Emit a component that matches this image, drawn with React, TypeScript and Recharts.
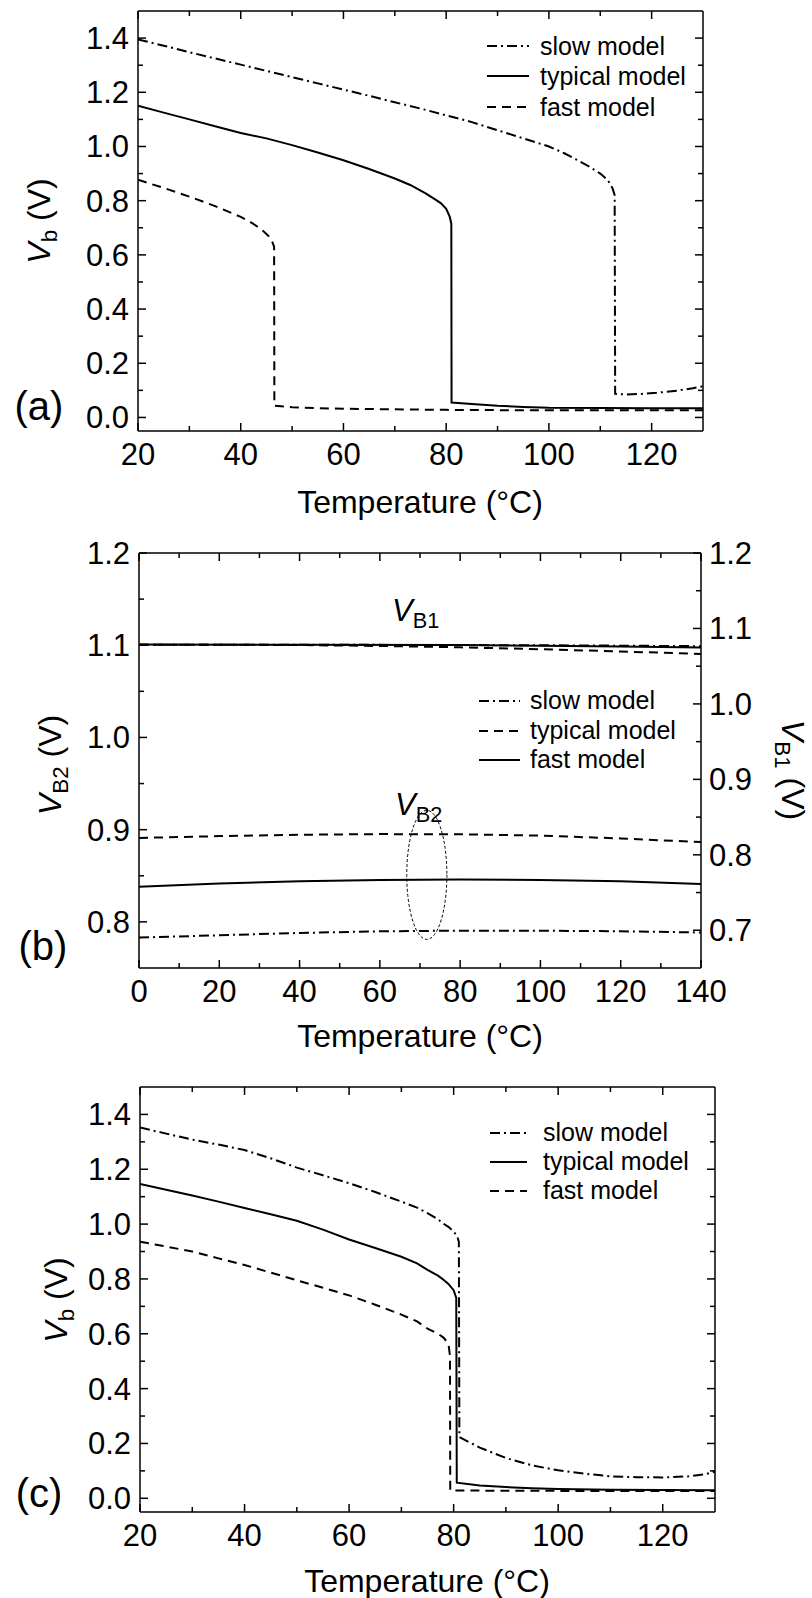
import React from 'react';
import { LineChart, Line, XAxis, YAxis, Legend, ReferenceDot } from 'recharts';

const FONT = '"Liberation Sans", Arial, Helvetica, sans-serif';
const DASH = '9 6';
const DASHDOT = '10 4 2 4';

// (a) Vb vs temperature
const aSlow: [number, number][] = [
  [20, 1.395], [25, 1.372], [30, 1.348], [35, 1.325], [40, 1.302], [45, 1.279], [50, 1.256],
  [55, 1.233], [60, 1.21], [65, 1.187], [70, 1.163], [75, 1.14], [80, 1.115], [85, 1.09],
  [90, 1.06], [95, 1.03], [100, 1.0], [103, 0.975], [106, 0.945], [108, 0.924], [110, 0.9],
  [111.5, 0.875], [112.4, 0.845], [112.8, 0.82], [112.9, 0.087], [115, 0.085], [118, 0.087],
  [121, 0.091], [125, 0.099], [128, 0.108], [130, 0.115],
];
const aTypical: [number, number][] = [
  [20, 1.15], [25, 1.125], [30, 1.1], [35, 1.075], [40, 1.05], [45, 1.03], [50, 1.005],
  [55, 0.978], [60, 0.949], [65, 0.917], [70, 0.882], [73, 0.858], [76, 0.827], [78, 0.803],
  [79, 0.79], [80, 0.77], [80.7, 0.74], [81, 0.715], [81.05, 0.055], [85, 0.05], [90, 0.043],
  [95, 0.039], [100, 0.036], [110, 0.035], [120, 0.034], [130, 0.034],
];
const aFast: [number, number][] = [
  [20, 0.877], [25, 0.847], [30, 0.815], [35, 0.78], [40, 0.74], [42, 0.72], [44, 0.695],
  [45.5, 0.668], [46.2, 0.645], [46.5, 0.63], [46.55, 0.043], [50, 0.038], [55, 0.034],
  [60, 0.032], [70, 0.03], [80, 0.028], [90, 0.027], [100, 0.027], [130, 0.027],
];

// (b) VB1 (right axis) and VB2 (left axis)
const bSlowB1: [number, number][] = [[0, 1.0785], [40, 1.0785], [80, 1.078], [110, 1.0775], [140, 1.0765]];
const bTypicalB1: [number, number][] = [
  [0, 1.0785], [20, 1.0785], [40, 1.078], [60, 1.0768], [80, 1.075], [100, 1.0725], [120, 1.0695], [140, 1.0662],
];
const bFastB1: [number, number][] = [[0, 1.0787], [40, 1.0785], [80, 1.078], [100, 1.077], [120, 1.076], [140, 1.0748]];
const bSlowB2: [number, number][] = [
  [0, 0.783], [20, 0.7855], [40, 0.788], [60, 0.7898], [80, 0.7905], [100, 0.7905], [120, 0.7898], [140, 0.7885],
];
const bTypicalB2: [number, number][] = [
  [0, 0.891], [20, 0.893], [40, 0.8945], [60, 0.8952], [80, 0.895], [100, 0.8935], [120, 0.8905], [140, 0.8865],
];
const bFastB2: [number, number][] = [
  [0, 0.838], [20, 0.8415], [40, 0.844], [60, 0.8455], [80, 0.846], [100, 0.8455], [120, 0.844], [140, 0.841],
];

// (c) Vb vs temperature
const cSlow: [number, number][] = [
  [20, 1.352], [25, 1.33], [30, 1.308], [35, 1.29], [40, 1.27], [45, 1.24], [50, 1.206],
  [55, 1.178], [60, 1.149], [65, 1.117], [70, 1.082], [73, 1.06], [75, 1.04], [77, 1.018],
  [78, 1.002], [79, 0.99], [80, 0.973], [80.7, 0.955], [81, 0.935], [81.1, 0.223], [85, 0.185],
  [90, 0.147], [95, 0.12], [100, 0.102], [105, 0.09], [110, 0.08], [115, 0.077], [120, 0.076],
  [125, 0.08], [128, 0.087], [130, 0.097],
];
const cTypical: [number, number][] = [
  [20, 1.146], [25, 1.125], [30, 1.104], [35, 1.082], [40, 1.059], [45, 1.036], [50, 1.012],
  [55, 0.98], [60, 0.944], [65, 0.913], [70, 0.881], [73, 0.857], [75, 0.833], [77, 0.812],
  [78, 0.798], [79, 0.782], [80, 0.759], [80.5, 0.731], [80.6, 0.057], [85, 0.047], [90, 0.041],
  [95, 0.037], [100, 0.034], [110, 0.031], [120, 0.03], [130, 0.029],
];
const cFast: [number, number][] = [
  [20, 0.936], [25, 0.918], [30, 0.9], [35, 0.875], [40, 0.851], [45, 0.823], [50, 0.795],
  [55, 0.768], [60, 0.74], [65, 0.706], [70, 0.67], [73, 0.645], [75, 0.619], [77, 0.6],
  [78, 0.587], [79, 0.565], [79.3, 0.52], [79.35, 0.028], [85, 0.028], [100, 0.027], [130, 0.027],
];

// ticks
const acXMajor = [20, 40, 60, 80, 100, 120];
const acXMinor = [30, 50, 70, 90, 110];
const acYMajor = [0, 0.2, 0.4, 0.6, 0.8, 1.0, 1.2, 1.4];
const acYMinor = [0.1, 0.3, 0.5, 0.7, 0.9, 1.1, 1.3];
const bXMajor = [0, 20, 40, 60, 80, 100, 120, 140];
const bXMinor = [10, 30, 50, 70, 90, 110, 130];
const bLMajor = [0.8, 0.9, 1.0, 1.1, 1.2];
const bLMinor = [0.85, 0.95, 1.05, 1.15];
const bRMajor = [0.7, 0.8, 0.9, 1.0, 1.1, 1.2];
const bRMinor = [0.75, 0.85, 0.95, 1.05, 1.15];

const rows = (pts: [number, number][]) => pts.map(([t, v]) => ({ t, v }));
const f0 = (v: number) => String(Math.round(v));
const f1 = (v: number) => v.toFixed(1);

const AXIS = { stroke: '#000', strokeWidth: 1.5 };
const TICK_FS = 31;
const TITLE_FS = 32;

type Side = 'bottom' | 'top' | 'left' | 'right';

// ticks point inward, minor ones shorter; labels only on majors
const tick = (side: Side, majors: number[], fmt?: (v: number) => string) => (props: any) => {
  const { x, y, payload } = props;
  const v = Number(payload.value);
  const major = majors.some((m) => Math.abs(m - v) < 1e-6);
  const len = major ? 8 : 5;
  let l = { x1: x, y1: y, x2: x, y2: y - len };
  if (side === 'top') l = { x1: x, y1: y, x2: x, y2: y + len };
  if (side === 'left') l = { x1: x, y1: y, x2: x + len, y2: y };
  if (side === 'right') l = { x1: x, y1: y, x2: x - len, y2: y };
  let label = null;
  if (major && fmt) {
    const tp = { fontFamily: FONT, fontSize: TICK_FS, fill: '#000' };
    if (side === 'bottom') label = <text x={x} y={y + 34} textAnchor="middle" {...tp}>{fmt(v)}</text>;
    if (side === 'left') label = <text x={x - 9} y={y + 11} textAnchor="end" {...tp}>{fmt(v)}</text>;
    if (side === 'right') label = <text x={x + 8} y={y + 11} textAnchor="start" {...tp}>{fmt(v)}</text>;
  }
  return (
    <g>
      <line {...l} stroke="#000" strokeWidth={1.5} />
      {label}
    </g>
  );
};

const common = {
  type: 'number' as const,
  interval: 0 as const,
  tickSize: 0,
  tickMargin: 0,
  tickLine: false,
  axisLine: AXIS,
  allowDataOverflow: true,
};

type LegendItem = { name: string; dash?: string };

const legendBox = (items: LegendItem[], sample: number, gap: number, rowH: number) => () => (
  <div style={{ fontFamily: FONT, fontSize: 25, color: '#000', lineHeight: `${rowH}px` }}>
    {items.map((it) => (
      <div key={it.name} style={{ display: 'flex', alignItems: 'center', height: rowH, whiteSpace: 'nowrap' }}>
        <svg width={sample} height={10} style={{ display: 'block' }}>
          <line x1={0} y1={5} x2={sample} y2={5} stroke="#000" strokeWidth={2} strokeDasharray={it.dash} />
        </svg>
        <span style={{ marginLeft: gap }}>{it.name}</span>
      </div>
    ))}
  </div>
);

const line = (pts: [number, number][], name: string, dash?: string, yId = 'l') => (
  <Line
    key={name}
    data={rows(pts)}
    dataKey="v"
    name={name}
    xAxisId="b"
    yAxisId={yId}
    type="linear"
    stroke="#000"
    strokeWidth={2}
    strokeDasharray={dash}
    dot={false}
    activeDot={false}
    isAnimationActive={false}
  />
);

const VSub = ({ sub, fs }: { sub: string; fs: number }) => (
  <>
    <tspan fontStyle="italic">V</tspan>
    <tspan fontSize={fs * 0.7} dy={fs * 0.23}>{sub}</tspan>
  </>
);

const AxisTitle = ({ x, y, rot, sub }: { x: number; y: number; rot: number; sub: string }) => (
  <text transform={`translate(${x},${y}) rotate(${rot})`} textAnchor="middle" fontSize={TITLE_FS}>
    <VSub sub={sub} fs={TITLE_FS} />
    <tspan dy={-TITLE_FS * 0.23}> (V)</tspan>
  </text>
);

// panel (b) plot box, used for the ellipse radii
const B_W = 812 - 139 - 111;
const B_H = 968 - 553;

const App = () => {
  return (
    <div style={{ position: 'absolute', left: 0, top: 0, width: 812, height: 1598, background: '#fff' }}>
      {/* (a) */}
      <div style={{ position: 'absolute', left: 0, top: 0 }}>
        <LineChart width={812} height={520} margin={{ top: 0, right: 0, bottom: 0, left: 0 }}>
          <XAxis {...common} xAxisId="b" dataKey="t" domain={[20, 130]} ticks={[...acXMajor, ...acXMinor]} height={89} tick={tick('bottom', acXMajor, f0)} />
          <XAxis {...common} xAxisId="t" orientation="top" dataKey="t" domain={[20, 130]} ticks={[...acXMajor, ...acXMinor]} height={11} tick={tick('top', acXMajor)} />
          <YAxis {...common} yAxisId="l" domain={[-0.05, 1.5]} ticks={[...acYMajor, ...acYMinor]} width={138} tick={tick('left', acYMajor, f1)} />
          <YAxis {...common} yAxisId="r" orientation="right" domain={[-0.05, 1.5]} ticks={[...acYMajor, ...acYMinor]} width={109} tick={tick('right', acYMajor)} />
          {line(aSlow, 'slow model', DASHDOT)}
          {line(aTypical, 'typical model')}
          {line(aFast, 'fast model', DASH)}
          <Legend
            layout="vertical"
            align="center"
            verticalAlign="middle"
            wrapperStyle={{ position: 'absolute', left: 487, top: 31, width: 'auto' }}
            content={legendBox([{ name: 'slow model', dash: DASHDOT }, { name: 'typical model' }, { name: 'fast model', dash: DASH }], 42, 11, 30.3)}
          />
        </LineChart>
      </div>

      {/* (b) */}
      <div style={{ position: 'absolute', left: 0, top: 520 }}>
        <LineChart width={812} height={530} margin={{ top: 0, right: 0, bottom: 0, left: 0 }}>
          <XAxis {...common} xAxisId="b" dataKey="t" domain={[0, 140]} ticks={[...bXMajor, ...bXMinor]} height={82} tick={tick('bottom', bXMajor, f0)} />
          <XAxis {...common} xAxisId="t" orientation="top" dataKey="t" domain={[0, 140]} ticks={[...bXMajor, ...bXMinor]} height={33} tick={tick('top', bXMajor)} />
          <YAxis {...common} yAxisId="l" domain={[0.75, 1.2]} ticks={[...bLMajor, ...bLMinor]} width={139} tick={tick('left', bLMajor, f1)} />
          <YAxis {...common} yAxisId="r" orientation="right" domain={[0.65, 1.2]} ticks={[...bRMajor, ...bRMinor]} width={111} tick={tick('right', bRMajor, f1)} />
          {line(bSlowB1, 'slow VB1', DASHDOT, 'r')}
          {line(bTypicalB1, 'typical VB1', DASH, 'r')}
          {line(bFastB1, 'fast VB1', undefined, 'r')}
          {line(bSlowB2, 'slow VB2', DASHDOT)}
          {line(bTypicalB2, 'typical VB2', DASH)}
          {line(bFastB2, 'fast VB2')}
          <ReferenceDot
            xAxisId="b"
            yAxisId="l"
            x={71.7}
            y={0.851}
            ifOverflow="visible"
            shape={(p: any) => (
              <ellipse cx={p.cx} cy={p.cy} rx={(5 * B_W) / 140} ry={(0.07 * B_H) / 0.45} fill="none" stroke="#000" strokeWidth={1} strokeDasharray="3 2" />
            )}
          />
          <Legend
            layout="vertical"
            align="center"
            verticalAlign="middle"
            wrapperStyle={{ position: 'absolute', left: 479, top: 166, width: 'auto' }}
            content={legendBox([{ name: 'slow model', dash: DASHDOT }, { name: 'typical model', dash: DASH }, { name: 'fast model' }], 41, 10, 29.7)}
          />
        </LineChart>
      </div>

      {/* (c) */}
      <div style={{ position: 'absolute', left: 0, top: 1050 }}>
        <LineChart width={812} height={548} margin={{ top: 0, right: 0, bottom: 0, left: 0 }}>
          <XAxis {...common} xAxisId="b" dataKey="t" domain={[20, 130]} ticks={[...acXMajor, ...acXMinor]} height={86} tick={tick('bottom', acXMajor, f0)} />
          <XAxis {...common} xAxisId="t" orientation="top" dataKey="t" domain={[20, 130]} ticks={[...acXMajor, ...acXMinor]} height={37} tick={tick('top', acXMajor)} />
          <YAxis {...common} yAxisId="l" domain={[-0.05, 1.5]} ticks={[...acYMajor, ...acYMinor]} width={140} tick={tick('left', acYMajor, f1)} />
          <YAxis {...common} yAxisId="r" orientation="right" domain={[-0.05, 1.5]} ticks={[...acYMajor, ...acYMinor]} width={97} tick={tick('right', acYMajor)} />
          {line(cSlow, 'slow model', DASHDOT)}
          {line(cTypical, 'typical model')}
          {line(cFast, 'fast model', DASH)}
          <Legend
            layout="vertical"
            align="center"
            verticalAlign="middle"
            wrapperStyle={{ position: 'absolute', left: 490, top: 68, width: 'auto' }}
            content={legendBox([{ name: 'slow model', dash: DASHDOT }, { name: 'typical model' }, { name: 'fast model', dash: DASH }], 37, 16, 29)}
          />
        </LineChart>
      </div>

      {/* titles and annotations */}
      <svg width={812} height={1598} style={{ position: 'absolute', left: 0, top: 0, pointerEvents: 'none' }} fontFamily={FONT} fill="#000">
        <text x={420} y={513} textAnchor="middle" fontSize={TITLE_FS}>Temperature (°C)</text>
        <AxisTitle x={50} y={221} rot={-90} sub="b" />
        <text x={39} y={420} textAnchor="middle" fontSize={40}>(a)</text>

        <text x={420} y={1047} textAnchor="middle" fontSize={TITLE_FS}>Temperature (°C)</text>
        <AxisTitle x={61} y={765} rot={-90} sub="B2" />
        <AxisTitle x={782} y={770} rot={90} sub="B1" />
        <text x={43} y={960} textAnchor="middle" fontSize={40}>(b)</text>
        <text x={392} y={621} fontSize={31}>
          <VSub sub="B1" fs={31} />
        </text>
        <text x={395} y={815} fontSize={31}>
          <VSub sub="B2" fs={31} />
        </text>

        <text x={427} y={1592} textAnchor="middle" fontSize={TITLE_FS}>Temperature (°C)</text>
        <AxisTitle x={67} y={1300} rot={-90} sub="b" />
        <text x={39} y={1507} textAnchor="middle" fontSize={40}>(c)</text>
      </svg>
    </div>
  );
};

export default App;
